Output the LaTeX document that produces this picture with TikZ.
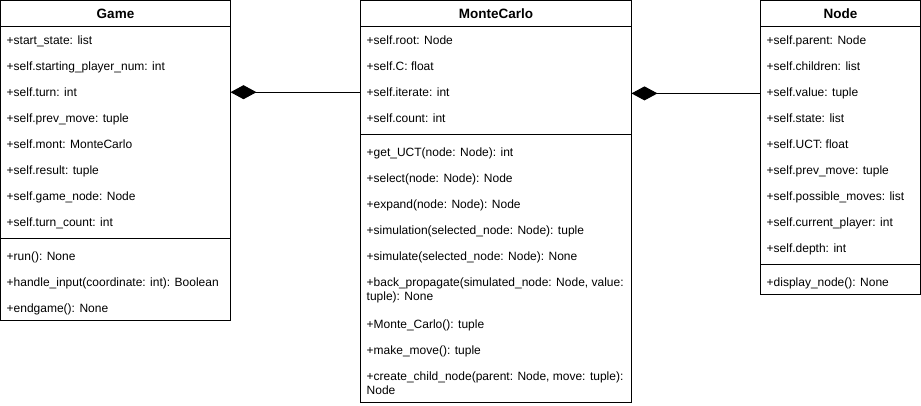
\documentclass[tikz,border=0pt]{standalone}
\usepackage{fontspec}
\setmainfont{Liberation Sans}
\usetikzlibrary{arrows.meta}
\begin{document}
\begin{tikzpicture}[x=1pt,y=-1pt,
  classbox/.style={draw=black,line width=1pt,fill=white,inner sep=0pt,outer sep=0pt,anchor=north west},
  attr/.style={anchor=base west,yshift=-4.5pt,inner sep=0pt,font=\fontsize{12}{14}\selectfont,align=left},
  head/.style={inner sep=0pt,font=\fontsize{13.5}{16}\selectfont\bfseries},
  sepline/.style={line width=1pt},
  comp/.style={line width=1pt,-{Diamond[length=26pt,width=14pt,fill=black]}}]
\useasboundingbox (0,0) rectangle (921,406);
% Game
\node[classbox,minimum width=230pt,minimum height=320pt] (game) at (0.5,0.5) {};
\node[head] (gH) at (115.5,13.5) {Game};
\draw[sepline] ([yshift=-26pt]game.north west) -- ([yshift=-26pt]game.north east);
\draw[sepline] ([yshift=-238pt]game.north west) -- ([yshift=-238pt]game.north east);
\node[attr] (gA1) at (6.5,40) {+start\_state: list};
\node[attr] (gA2) at (6.5,66) {+self.starting\_player\_num: int};
\node[attr] (gA3) at (6.5,92) {+self.turn: int};
\node[attr] (gA4) at (6.5,118) {+self.prev\_move: tuple};
\node[attr] (gA5) at (6.5,144) {+self.mont: MonteCarlo};
\node[attr] (gA6) at (6.5,170) {+self.result: tuple};
\node[attr] (gA7) at (6.5,196) {+self.game\_node: Node};
\node[attr] (gA8) at (6.5,222) {+self.turn\_count: int};
\node[attr] (gM1) at (6.5,256) {+run(): None};
\node[attr] (gM2) at (6.5,282) {+handle\_input(coordinate: int): Boolean};
\node[attr] (gM3) at (6.5,308) {+endgame(): None};
% MonteCarlo
\node[classbox,minimum width=271pt,minimum height=402pt] (mc) at (360.5,0.5) {};
\node[head] (mH) at (496,13.5) {MonteCarlo};
\draw[sepline] ([yshift=-26pt]mc.north west) -- ([yshift=-26pt]mc.north east);
\draw[sepline] ([yshift=-134pt]mc.north west) -- ([yshift=-134pt]mc.north east);
\node[attr] (mA1) at (366.5,40) {+self.root: Node};
\node[attr] (mA2) at (366.5,66) {+self.C: float};
\node[attr] (mA3) at (366.5,92) {+self.iterate: int};
\node[attr] (mA4) at (366.5,118) {+self.count: int};
\node[attr] (mM1) at (366.5,152) {+get\_UCT(node: Node): int};
\node[attr] (mM2) at (366.5,178) {+select(node: Node): Node};
\node[attr] (mM3) at (366.5,204) {+expand(node: Node): Node};
\node[attr] (mM4) at (366.5,230) {+simulation(selected\_node: Node): tuple};
\node[attr] (mM5) at (366.5,256) {+simulate(selected\_node: Node): None};
\node[attr] (mM6) at (366.5,296) {+back\_propagate(simulated\_node: Node, value:\\tuple): None};
\node[attr] (mM7) at (366.5,324) {+Monte\_Carlo(): tuple};
\node[attr] (mM8) at (366.5,350) {+make\_move(): tuple};
\node[attr] (mM9) at (366.5,390) {+create\_child\_node(parent: Node, move: tuple):\\Node};
% Node
\node[classbox,minimum width=160pt,minimum height=294pt] (nd) at (760.5,0.5) {};
\node[head] (nH) at (840.5,13.5) {Node};
\draw[sepline] ([yshift=-26pt]nd.north west) -- ([yshift=-26pt]nd.north east);
\draw[sepline] ([yshift=-264pt]nd.north west) -- ([yshift=-264pt]nd.north east);
\node[attr] (nA1) at (766.5,40) {+self.parent: Node};
\node[attr] (nA2) at (766.5,66) {+self.children: list};
\node[attr] (nA3) at (766.5,92) {+self.value: tuple};
\node[attr] (nA4) at (766.5,118) {+self.state: list};
\node[attr] (nA5) at (766.5,144) {+self.UCT: float};
\node[attr] (nA6) at (766.5,170) {+self.prev\_move: tuple};
\node[attr] (nA7) at (766.5,196) {+self.possible\_moves: list};
\node[attr] (nA8) at (766.5,222) {+self.current\_player: int};
\node[attr] (nA9) at (766.5,248) {+self.depth: int};
\node[attr] (nM1) at (766.5,282) {+display\_node(): None};
% connectors
\draw[comp] (mc.west |- mA3) -- (game.east |- mA3);
\draw[comp] (nd.west |- nA3) -- (mc.east |- nA3);
\end{tikzpicture}
\end{document}
